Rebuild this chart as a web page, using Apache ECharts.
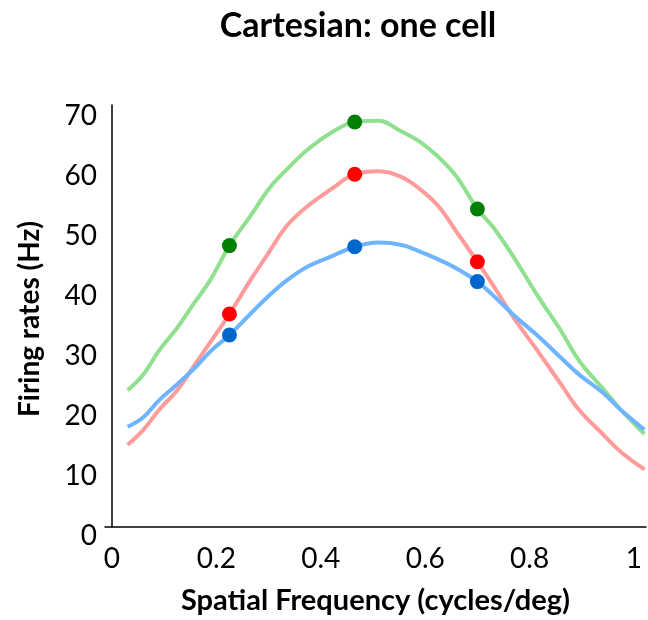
<!DOCTYPE html>
<html>
<head>
<meta charset="utf-8">
<title>Cartesian: one cell</title>
<script src="https://cdn.jsdelivr.net/npm/echarts@6/dist/echarts.min.js"></script>
<style>
  html, body { margin: 0; padding: 0; background: #fff; }
  #chart { width: 648px; height: 620px; }
</style>
</head>
<body>
<div id="chart"></div>
<script>
// tuning curves
var freq = [0.03, 0.06, 0.09, 0.125, 0.155, 0.19, 0.225, 0.265, 0.30, 0.335, 0.375, 0.42, 0.465, 0.51,
            0.555, 0.59, 0.625, 0.66, 0.70, 0.73, 0.77, 0.815, 0.86, 0.895, 0.94, 0.975, 1.02];
var greenRate = [22.8, 25.4, 29.4, 33.2, 37.0, 41.4, 46.9, 51.8, 56.3, 59.6, 62.9, 65.7, 67.5, 67.7,
                 65.9, 64.2, 61.7, 58.4, 53.0, 50.0, 44.9, 38.6, 32.7, 27.7, 23.1, 19.5, 15.5];
var redRate = [13.7, 16.2, 19.5, 22.8, 26.6, 31.0, 35.5, 41.1, 45.7, 50.2, 53.5, 56.3, 58.8, 59.3,
               58.3, 56.3, 53.5, 49.2, 44.2, 40.3, 34.8, 29.4, 23.8, 19.5, 15.5, 12.5, 9.6];
var blueRate = [16.7, 18.3, 21.1, 23.8, 26.2, 29.4, 32.0, 35.5, 38.5, 41.1, 43.4, 45.1, 46.7, 47.4,
                47.0, 45.9, 44.6, 43.1, 40.9, 38.6, 35.3, 31.9, 28.2, 25.4, 22.4, 19.5, 16.2];

// sampled points
var dotFreq = [0.225, 0.465, 0.70];
var greenDots = [46.9, 67.5, 53.0];
var redDots = [35.5, 58.8, 44.2];
var blueDots = [32.0, 46.7, 40.9];

// tick labels
var xTicks = [0, 0.2, 0.4, 0.6, 0.8, 1];
var yTicks = [0, 10, 20, 30, 40, 50, 60, 70];

function pairs(xs, ys) {
    return xs.map(function (x, i) { return [x, ys[i]]; });
}

function curve(ys, color) {
    return {
        type: 'line',
        data: pairs(freq, ys),
        showSymbol: false,
        smooth: 0.4,
        lineStyle: { color: color, width: 4 },
        z: 2
    };
}

function dots(ys, color) {
    return {
        type: 'scatter',
        data: pairs(dotFreq, ys),
        symbolSize: 15,
        itemStyle: { color: color, opacity: 1 },
        z: 5
    };
}

var myChart = echarts.init(document.getElementById('chart'));
var font = 'Lato';

var option = {
    animation: false,
    backgroundColor: '#fff',
    title: {
        text: 'Cartesian: one cell',
        left: 353,
        top: 4,
        textAlign: 'center',
        textStyle: { fontFamily: font, fontWeight: 'bold', fontSize: 34, color: '#000' }
    },
    grid: { left: 105, right: 2, top: 105, bottom: 89 },
    xAxis: {
        type: 'value',
        min: -0.0134,
        max: 1.023,
        name: 'Spatial Frequency (cycles/deg)',
        nameLocation: 'middle',
        nameGap: 59,
        nameTextStyle: { fontFamily: font, fontWeight: 'bold', fontSize: 29, color: '#000' },
        axisLine: { show: true, lineStyle: { color: '#000', width: 1.5 } },
        axisTick: { show: false },
        splitLine: { show: false },
        axisLabel: {
            customValues: xTicks,
            margin: 18,
            fontFamily: font,
            fontSize: 28,
            color: '#000'
        }
    },
    yAxis: {
        type: 'value',
        min: 0,
        max: 70.33,
        name: 'Firing rates (Hz)',
        nameLocation: 'middle',
        nameGap: 61,
        nameTextStyle: { fontFamily: font, fontWeight: 'bold', fontSize: 28, color: '#000', padding: [0, 6, 0, 0] },
        axisLine: { show: true, lineStyle: { color: '#000', width: 1.5 } },
        axisTick: { show: false },
        splitLine: { show: false },
        axisLabel: {
            customValues: yTicks,
            margin: 8,
            verticalAlign: 'top',
            lineHeight: 18,
            fontFamily: font,
            fontSize: 28,
            color: '#000'
        }
    },
    series: [
        curve(greenRate, '#8fe08f'),
        curve(redRate, '#ff9b9b'),
        curve(blueRate, '#6eb4ff'),
        dots(greenDots, '#008000'),
        dots(redDots, '#ff0000'),
        dots(blueDots, '#0066cc')
    ]
};

myChart.setOption(option, true);
</script>
</body>
</html>
